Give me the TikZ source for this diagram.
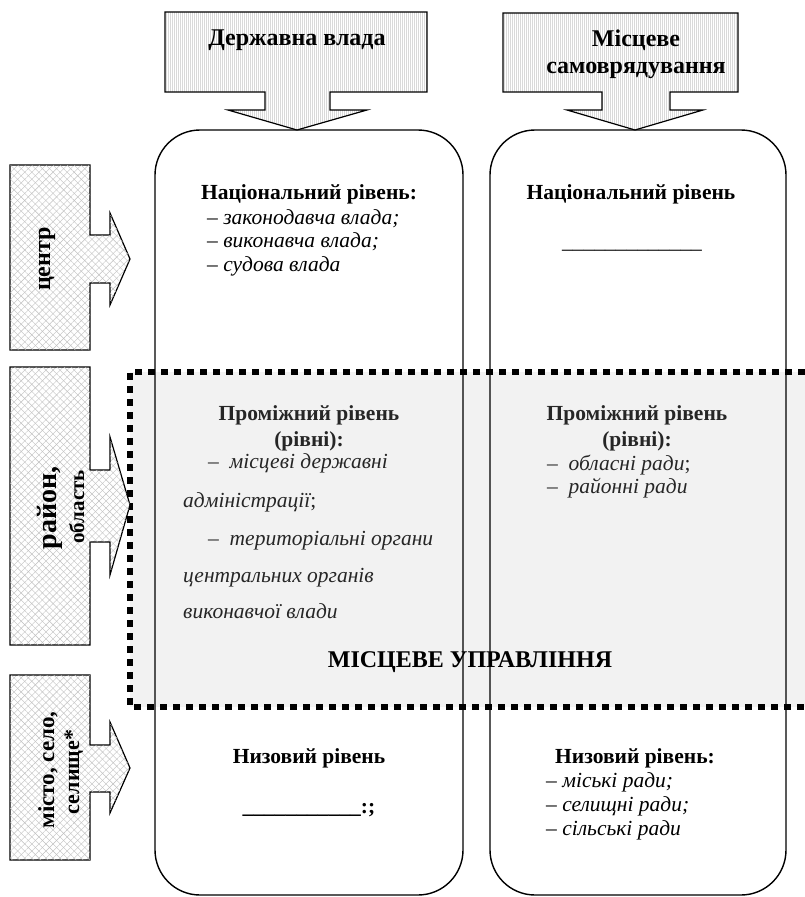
\documentclass[tikz,border=0pt]{standalone}
\usepackage{fontspec}
\setmainfont{Liberation Serif}
\usetikzlibrary{patterns.meta}
\begin{document}
\begin{tikzpicture}[x=1pt,y=-1pt,
  ttl/.style={font=\fontsize{21.5}{24}\selectfont\bfseries, inner sep=0pt, anchor=base},
  itm/.style={font=\fontsize{21.5}{24}\selectfont\itshape, inner sep=0pt, anchor=base west},
  topbox/.style={draw=black, line width=1.2pt, line join=miter,
     preaction={fill=white},
     pattern={Lines[angle=90,distance=2pt,line width=0.3pt]}, pattern color=gray!30},
  sidebox/.style={draw=black, line width=1.2pt, line join=miter,
     preaction={fill=white},
     pattern={Lines[angle=45,distance=5pt,line width=0.4pt]}, pattern color=gray!50,
     postaction={pattern={Lines[angle=-45,distance=5pt,line width=0.4pt]}, pattern color=gray!50}},
  levelbox/.style={draw=black, line width=1.4pt, rounded corners=45pt},
  dotline/.style={draw=black, line width=6pt, dash pattern=on 7pt off 6pt},
  sidelbl/.style={inner sep=0pt, rotate=90, anchor=base},
  toplbl/.style={font=\fontsize{24}{28}\selectfont\bfseries, inner sep=0pt, anchor=base}
]
\useasboundingbox (0,0) rectangle (805,897);
\fill[white] (0,0) rectangle (805,897);

% local government zone (fill)
\fill[black!5] (130,372) rectangle (805,707);

% level boxes
\draw[levelbox] (155,130) rectangle (463,895);
\draw[levelbox] (490,130) rectangle (786,895);

% dotted border
\draw[dotline] (805,372) -- (130,372) -- (130,707) -- (805,707);

% top arrows
\draw[topbox] (165,12) -- (427,12) -- (427,92) -- (330,92) -- (330,110) -- (367,110)
  -- (297,130) -- (228,110) -- (265,110) -- (265,92) -- (165,92) -- cycle;
\draw[topbox] (503,13) -- (738,13) -- (738,92) -- (670,92) -- (670,110) -- (703,110)
  -- (635,130) -- (567,110) -- (602,110) -- (602,92) -- (503,92) -- cycle;
\node[toplbl] (dv) at (297,45) {Державна влада};
\node[toplbl] (ms1) at (636,46) {Місцеве};
\node[toplbl] (ms2) at (636,73) {самоврядування};

% side arrows
\draw[sidebox] (10,165) -- (90,165) -- (90,235) -- (110,235) -- (110,213) -- (130,259)
  -- (110,305) -- (110,283) -- (90,283) -- (90,350) -- (10,350) -- cycle;
\draw[sidebox] (10,367) -- (90,367) -- (90,470) -- (110,470) -- (110,437) -- (130,505)
  -- (110,575) -- (110,542) -- (90,542) -- (90,645) -- (10,645) -- cycle;
\draw[sidebox] (10,675) -- (90,675) -- (90,745) -- (110,745) -- (110,722) -- (130,768)
  -- (110,813) -- (110,792) -- (90,792) -- (90,860) -- (10,860) -- cycle;
\node[sidelbl, font=\fontsize{24}{26}\selectfont\bfseries] (c1) at (50,259) {центр};
\node[sidelbl, font=\fontsize{28}{30}\selectfont\bfseries] (c2a) at (56,508) {район,};
\node[sidelbl, font=\fontsize{21}{24}\selectfont\bfseries] (c2b) at (84,507) {область};
\node[sidelbl, font=\fontsize{23}{25}\selectfont\bfseries] (c3a) at (54,770) {місто, село,};
\node[sidelbl, font=\fontsize{22}{24}\selectfont\bfseries] (c3b) at (79,772) {селище*};

% national level
\node[ttl] (n1) at (309,199) {Національний рівень:};
\node[itm] (n1a) at (207,224) {– законодавча влада;};
\node[itm] (n1b) at (207,247) {– виконавча влада;};
\node[itm] (n1c) at (207,271) {– судова влада};
\node[ttl] (n2) at (631,199) {Національний рівень};
\node[ttl, font=\fontsize{21.5}{24}\selectfont] (n2a) at (632,248) {\_\_\_\_\_\_\_\_\_\_\_\_\_};

% intermediate level
\begin{scope}[text=black!85]
\node[ttl] (p1) at (309,420) {Проміжний рівень};
\node[ttl] (p1b) at (309,446) {(рівні):};
\node[itm] (p1c) at (208,468) {–\ \ місцеві державні};
\node[itm] (p1d) at (183,507) {адміністрації\upshape;};
\node[itm] (p1e) at (208,545) {–\ \ територіальні органи};
\node[itm] (p1f) at (183,582) {центральних органів};
\node[itm] (p1g) at (183,618) {виконавчої влади};
\node[ttl] (p2) at (637,420) {Проміжний рівень};
\node[ttl] (p2b) at (637,446) {(рівні):};
\node[itm] (p2c) at (547,470) {–\ \ обласні ради\upshape;};
\node[itm] (p2d) at (547,493) {–\ \ районні ради};
\end{scope}
\node[ttl, font=\fontsize{24}{28}\selectfont\bfseries] (mu) at (470,667) {МІСЦЕВЕ УПРАВЛІННЯ};

% low level
\node[ttl] (l1) at (309,763) {Низовий рівень};
\node[ttl] (l1a) at (309,813) {\_\_\_\_\_\_\_\_\_\_\_:;};
\node[ttl] (l2) at (635,763) {Низовий рівень:};
\node[itm] (l2a) at (546,787) {– міські ради;};
\node[itm] (l2b) at (546,811) {– селищні ради;};
\node[itm] (l2c) at (546,835) {– сільські ради};
\end{tikzpicture}
\end{document}
